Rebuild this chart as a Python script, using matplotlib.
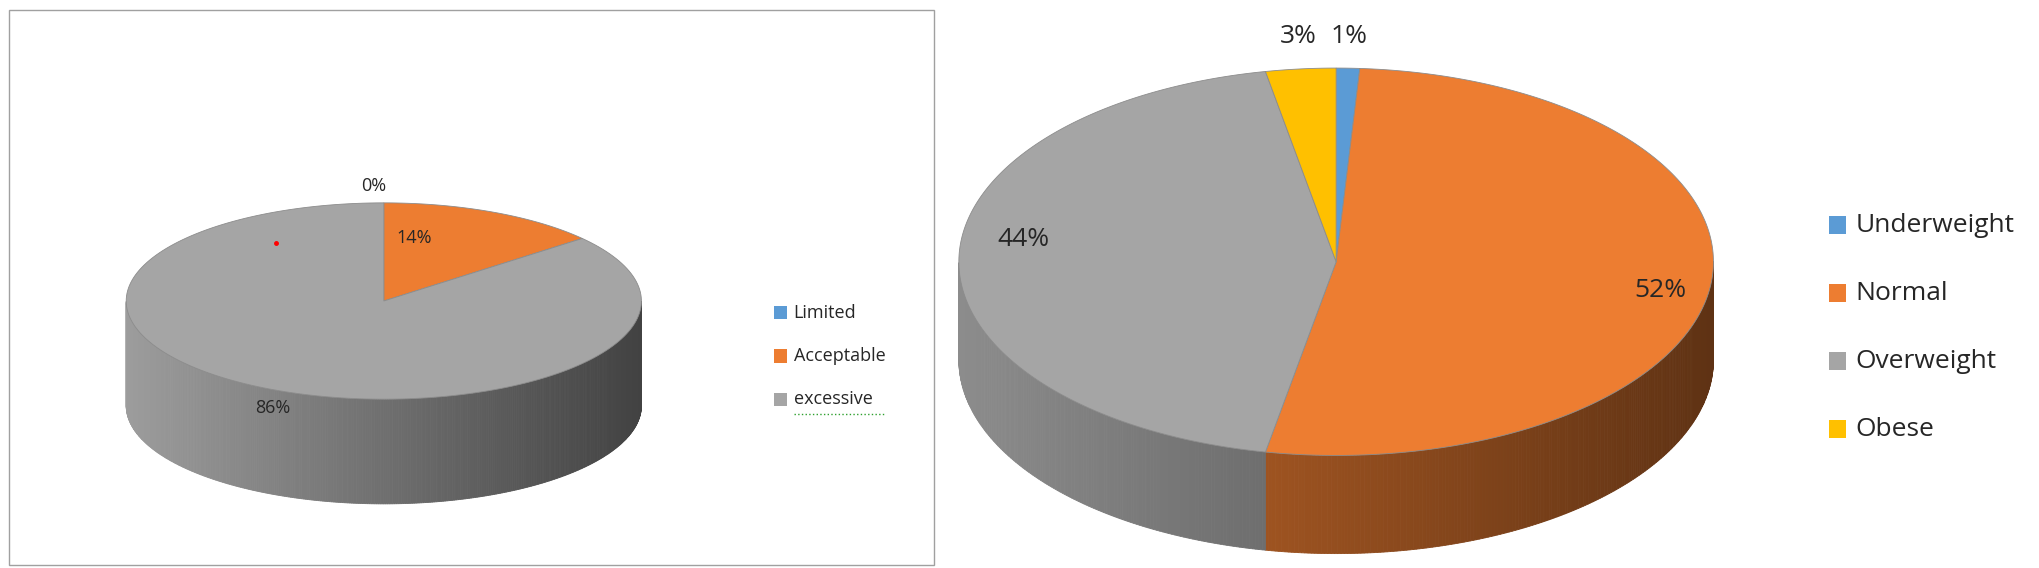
import numpy as np
import matplotlib
matplotlib.use('Agg')
import matplotlib.pyplot as plt
from matplotlib.patches import Polygon, Rectangle

plt.rcParams['font.family'] = ['Open Sans', 'DejaVu Sans']

# left chart
left_labels = ['Limited', 'Acceptable', 'excessive']
left_values = [0, 14, 86]
left_colors = ['#5b9bd5', '#ed7d31', '#a5a5a5']

# right chart (clockwise from top)
right_labels = ['Underweight', 'Normal', 'Overweight', 'Obese']
right_values = [1, 52, 44, 3]
right_colors = ['#5b9bd5', '#ed7d31', '#a5a5a5', '#ffc000']


def hex_rgb(c):
    return np.array(matplotlib.colors.to_rgb(c))


def pie3d(ax, cx, cy, rx, ry, depth, values, colors, f0=0.9, f1=0.4):
    total = float(sum(values))
    start = 90.0
    spans = []
    for v, c in zip(values, colors):
        sweep = 360.0 * v / total
        spans.append((start - sweep, start, c))
        start -= sweep
    # side faces (front half: screen-bottom, math angle in (180, 360))
    for a0, a1, c in spans:
        angs = np.linspace(a0, a1, max(int(abs(a1 - a0) * 2), 2))
        base = hex_rgb(c)
        for i in range(len(angs) - 1):
            t0, t1 = np.radians(angs[i]), np.radians(angs[i + 1])
            if np.sin((t0 + t1) / 2) > 0:
                continue
            x0, x1 = cx + rx * np.cos(t0), cx + rx * np.cos(t1)
            y0, y1 = cy - ry * np.sin(t0), cy - ry * np.sin(t1)
            f = f0 - (f0 - f1) * (((x0 + x1) / 2 - (cx - rx)) / (2 * rx))
            ax.add_patch(Polygon([(x0, y0), (x1, y1), (x1, y1 + depth), (x0, y0 + depth)],
                                 closed=True, facecolor=base * f, edgecolor=base * f,
                                 lw=0.6))
    # top faces
    for a0, a1, c in spans:
        if a1 - a0 <= 0:
            continue
        angs = np.radians(np.linspace(a0, a1, 200))
        pts = [(cx, cy)] + [(cx + rx * np.cos(a), cy - ry * np.sin(a)) for a in angs]
        ax.add_patch(Polygon(pts, closed=True, facecolor=c, edgecolor='#8c8c8c', lw=0.6))


fig = plt.figure(figsize=(20.4, 5.68), dpi=100)
ax = fig.add_axes([0, 0, 1, 1])
ax.set_xlim(0, 1568)
ax.set_ylim(434, 0)
ax.axis('off')

# left panel
ax.add_patch(Rectangle((7, 8), 711, 424, facecolor='none', edgecolor='#a0a0a0', lw=1))
pie3d(ax, 295, 230, 198, 75, 80, left_values, left_colors, 0.95, 0.4)
ax.plot([212], [186], 'o', color='red', ms=2.5)
for txt, (x, y) in zip(['0%', '14%', '86%'], [(287, 142), (318, 182), (210, 312)]):
    ax.text(x, y, txt, fontsize=13, ha='center', va='center', color='#262626')
for i, (lab, col) in enumerate(zip(left_labels, left_colors)):
    y = 239 + 33 * i
    ax.add_patch(Rectangle((595, y - 5), 10, 10, facecolor=col, edgecolor='none'))
    ax.text(610, y, lab, fontsize=13, va='center', color='#262626')
ax.plot([610, 681], [316, 316], ':', color='#2ea02e', lw=1)

# right panel
pie3d(ax, 1027, 200, 290, 148, 75, right_values, right_colors, 0.85, 0.4)
for txt, (x, y) in zip(['3%', '1%', '44%', '52%'],
                       [(998, 28), (1037, 28), (787, 183), (1276, 222)]):
    ax.text(x, y, txt, fontsize=19, ha='center', va='center', color='#262626')
for i, (lab, col) in enumerate(zip(right_labels, right_colors)):
    y = 172 + 52 * i
    ax.add_patch(Rectangle((1406, y - 7), 13, 14, facecolor=col, edgecolor='none'))
    ax.text(1426, y, lab, fontsize=19, va='center', color='#262626')

fig.savefig('out.png', dpi=100)
